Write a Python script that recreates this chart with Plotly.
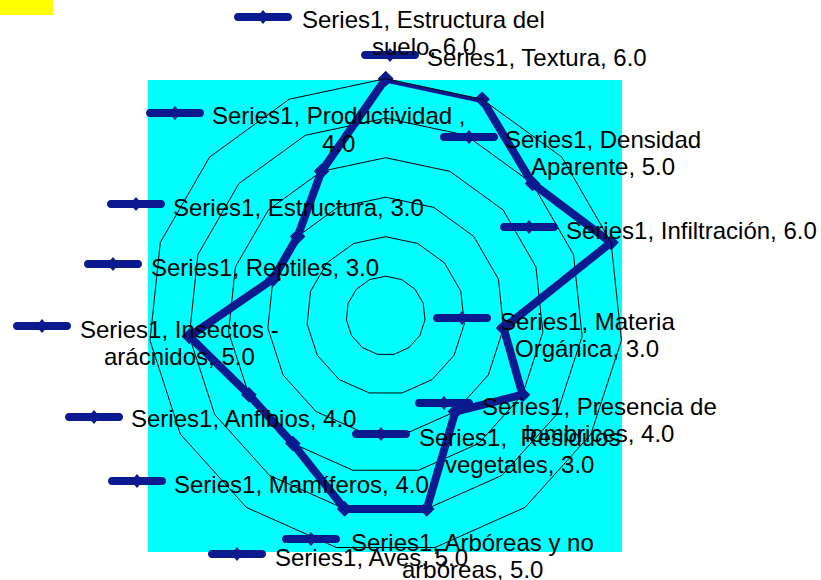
import plotly.graph_objects as go

W, H = 821, 580

series_name = "Series1"
categories = [
    "Estructura del suelo", "Textura", "Densidad Aparente", "Infiltración",
    "Materia Orgánica", "Presencia de lombrices", " Residuos vegetales",
    "Arbóreas y no arbóreas", "Aves", "Mamíferos", "Anfibios",
    "Insectos - arácnidos", "Reptiles", "Estructura", "Productividad ",
]
values = [6, 6, 5, 6, 3, 4, 3, 5, 5, 4, 4, 5, 3, 3, 4]

# label layout per category (pixels): text centre x, first-line centre y,
# words on first line, icon left x, icon centre y
label_layout = [
    (424, 19, 3, 234, 17),
    (537, 58, 99, 361, 55),
    (603, 139, 2, 440, 137),
    (691, 230, 99, 500, 227),
    (587, 321, 2, 433, 318),
    (599, 406, 3, 415, 403),
    (519, 437, 3, 352, 434),
    (472, 542, 4, 282, 539),
    (371, 557, 99, 208, 554),
    (301, 484, 99, 108, 481),
    (243.5, 419, 99, 65, 417),
    (179, 329, 3, 13, 326),
    (264.5, 267, 99, 84, 264),
    (298, 207, 99, 107, 204),
    (338, 116, 3, 146, 113),
]

NAVY = "#0b1a8f"
FONT = "Liberation Sans, Arial, sans-serif"
FS = 24
LINE_SP = 27


def px(x):
    return x / W


def py(y):
    return 1 - y / H


fig = go.Figure()
fig.add_trace(go.Scatterpolar(
    r=values + values[:1],
    theta=categories + categories[:1],
    mode="lines+markers",
    line=dict(color=NAVY, width=8),
    marker=dict(symbol="diamond", size=12, color=NAVY),
    showlegend=False,
    hoverinfo="skip",
))

cx, cy, R = 385.7, 315.7, 237.0
fig.update_layout(
    width=W, height=H,
    margin=dict(l=0, r=0, t=0, b=0),
    paper_bgcolor="white",
    showlegend=False,
    polar=dict(
        domain=dict(x=[px(cx - R), px(cx + R)], y=[py(cy + R), py(cy - R)]),
        bgcolor="rgba(0,0,0,0)",
        gridshape="linear",
        radialaxis=dict(range=[0, 6], dtick=1, showticklabels=False, ticks="",
                        showline=False, gridcolor="black", gridwidth=1),
        angularaxis=dict(rotation=90, direction="clockwise", showticklabels=False,
                         ticks="", showgrid=False, showline=True,
                         linecolor="black", linewidth=1),
    ),
)

shapes = []
# cyan plot area
shapes.append(dict(type="rect", xref="paper", yref="paper", layer="below",
                   x0=px(148), x1=px(622), y0=py(552), y1=py(80),
                   fillcolor="#00ffff", line=dict(width=0)))
# yellow title box
shapes.append(dict(type="rect", xref="paper", yref="paper", layer="below",
                   x0=px(0), x1=px(53), y0=py(15), y1=py(0),
                   fillcolor="#ffff00", line=dict(width=0)))

annotations = []
for cat, val, (tx, ty, nfirst, ix, iy) in zip(categories, values, label_layout):
    full = f"{series_name}, {cat}, {val:.1f}"
    toks = full.split(" ")
    if nfirst >= len(toks):
        lines = [full]
    else:
        lines = [" ".join(toks[:nfirst]), " ".join(toks[nfirst:])]
    for k, ln in enumerate(lines):
        annotations.append(dict(
            text=ln.replace("  ", "\u00a0 "), xref="paper", yref="paper",
            x=px(tx), y=py(ty + k * LINE_SP), xanchor="center", yanchor="middle",
            showarrow=False, font=dict(family=FONT, size=FS, color="black"),
        ))
    # legend-key icon: rounded thick line + diamond
    x1, x2, h = ix, ix + 58, 4
    k = h * 1.33
    path = (f"M {px(x1 + h)},{py(iy - h)} L {px(x2 - h)},{py(iy - h)} "
            f"C {px(x2 - h + k)},{py(iy - h)} {px(x2 - h + k)},{py(iy + h)} {px(x2 - h)},{py(iy + h)} "
            f"L {px(x1 + h)},{py(iy + h)} "
            f"C {px(x1 + h - k)},{py(iy + h)} {px(x1 + h - k)},{py(iy - h)} {px(x1 + h)},{py(iy - h)} Z")
    shapes.append(dict(type="path", xref="paper", yref="paper", path=path,
                       fillcolor=NAVY, line=dict(width=0), layer="above"))
    mx = (x1 + x2) / 2
    dpath = (f"M {px(mx)},{py(iy - 7)} L {px(mx + 6)},{py(iy)} "
             f"L {px(mx)},{py(iy + 7)} L {px(mx - 6)},{py(iy)} Z")
    shapes.append(dict(type="path", xref="paper", yref="paper", path=dpath,
                       fillcolor=NAVY, line=dict(width=0), layer="above"))

fig.update_layout(shapes=shapes, annotations=annotations)
fig.write_html(
    "out.html",
    config={"displayModeBar": False},
    post_script="document.body.style.margin='0';document.body.style.padding='0';",
)
